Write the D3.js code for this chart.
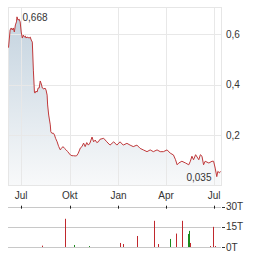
<!DOCTYPE html>
<html>
<head>
<meta charset="utf-8">
<script src="https://cdn.jsdelivr.net/npm/d3@7"></script>
<style>
  body { margin: 0; background: #fff; }
  svg text { font-family: "Liberation Sans", Arial, sans-serif; font-size: 10px; fill: #333; }
</style>
</head>
<body>
<div id="chart"></div>
<script>
// price series
const priceDates = ["2024-06-07","2024-06-10","2024-06-12","2024-06-14","2024-06-16","2024-06-18","2024-06-20","2024-06-22","2024-06-23","2024-06-25","2024-06-27","2024-06-29",
  "2024-07-01","2024-07-03","2024-07-05","2024-07-07","2024-07-09","2024-07-10","2024-07-12","2024-07-16","2024-07-18","2024-07-20","2024-07-22","2024-07-24","2024-07-26","2024-07-27","2024-07-29","2024-07-31",
  "2024-08-02","2024-08-04","2024-08-06","2024-08-08","2024-08-10","2024-08-13","2024-08-15","2024-08-17","2024-08-19","2024-08-20","2024-08-22","2024-08-25","2024-08-26","2024-08-28","2024-08-31",
  "2024-09-02","2024-09-04","2024-09-07","2024-09-09","2024-09-10","2024-09-13","2024-09-15","2024-09-18","2024-09-21","2024-09-24","2024-09-27",
  "2024-10-02","2024-10-05","2024-10-08","2024-10-11","2024-10-14","2024-10-17","2024-10-21","2024-10-24","2024-10-27","2024-10-30",
  "2024-11-02","2024-11-05","2024-11-08","2024-11-12","2024-11-15","2024-11-18","2024-11-21","2024-11-24","2024-11-27",
  "2024-12-04","2024-12-10","2024-12-16","2024-12-23","2024-12-29",
  "2025-01-04","2025-01-10","2025-01-17","2025-01-23","2025-01-29","2025-02-05","2025-02-11","2025-02-17","2025-02-24",
  "2025-03-02","2025-03-08","2025-03-15","2025-03-21","2025-03-27","2025-04-03","2025-04-09","2025-04-15","2025-04-19","2025-04-22","2025-04-25",
  "2025-05-01","2025-05-08","2025-05-14","2025-05-17","2025-05-20","2025-05-23","2025-05-27","2025-06-02","2025-06-05","2025-06-08","2025-06-11","2025-06-14","2025-06-21","2025-06-27","2025-06-30",
  "2025-07-03","2025-07-06","2025-07-08","2025-07-11","2025-07-13"];
const priceValues = [0.546,0.616,0.624,0.616,0.624,0.608,0.636,0.648,0.668,0.655,0.659,0.648,
  0.608,0.584,0.596,0.588,0.592,0.584,0.588,0.584,0.588,0.576,0.568,0.457,0.370,0.366,0.374,0.370,
  0.386,0.386,0.414,0.402,0.386,0.382,0.386,0.378,0.358,0.319,0.279,0.240,0.213,0.207,0.207,
  0.200,0.187,0.173,0.160,0.154,0.141,0.147,0.154,0.147,0.141,0.134,
  0.121,0.118,0.118,0.117,0.118,0.128,0.149,0.154,0.168,0.154,
  0.170,0.160,0.168,0.192,0.173,0.180,0.170,0.173,0.183,
  0.187,0.173,0.160,0.173,0.160,
  0.173,0.160,0.167,0.160,0.154,0.160,0.147,0.141,0.134,
  0.141,0.134,0.141,0.134,0.134,0.141,0.128,0.121,0.102,0.082,0.089,
  0.096,0.089,0.082,0.096,0.116,0.102,0.122,0.102,0.122,0.116,0.082,0.096,0.089,0.096,0.096,
  0.069,0.035,0.056,0.050,0.056];

// volume series (thousands), up = green, down = red
const volDates = ["2024-08-10","2024-09-21","2024-10-08","2024-11-07","2025-01-03","2025-01-09","2025-02-06","2025-03-10","2025-03-16",
  "2025-04-09","2025-04-19","2025-05-02","2025-05-13","2025-05-15","2025-05-17","2025-06-24","2025-06-28","2025-07-03"];
const volValues = [1, 21, 1.5, 0.7, 3, 2.2, 8.2, 19.5, 2.2, 6, 10, 19.5, 9.7, 12, 3, 0.7, 15, 0.7];
const volUp = [false, false, true, true, false, false, false, false, false, true, false, false, true, true, false, false, false, false];

const monthTicks = ["2024-07-01","2024-10-01","2025-01-01","2025-04-01","2025-07-01"];
const monthLabels = ["Jul","Okt","Jan","Apr","Jul"];
const priceTicks = [0.2, 0.4, 0.6];
const volTicks = [0, 15, 30];
const maxLabel = "0,668", minLabel = "0,035";

const parse = d3.timeParse("%Y-%m-%d");
const de = d3.formatLocale({ decimal: ",", thousands: ".", grouping: [3], currency: ["", "€"] });
const fmt = de.format(".1f");

const W = 264, H = 255;
const plotLeft = 8, plotRight = 221, plotTop = 7, plotBottom = 185.5;
const volTop = 206.7, volBottom = 247;

const svg = d3.select("#chart").append("svg")
  .attr("width", W).attr("height", H);

const x = d3.scaleTime()
  .domain([parse("2024-06-06"), parse("2025-07-14")])
  .range([plotLeft, plotRight]);

const y = d3.scaleLinear()
  .domain([0, 0.707])
  .range([plotBottom, plotTop]);

const yv = d3.scaleLinear()
  .domain([0, 30])
  .range([volBottom, volTop]);

const price = priceDates.map((d, i) => ({ date: parse(d), value: priceValues[i] }));

// gradient for the area
const grad = svg.append("defs").append("linearGradient")
  .attr("id", "areaFill")
  .attr("x1", "0%").attr("x2", "0%").attr("y1", "0%").attr("y2", "100%");
grad.append("stop").attr("offset", "0%").attr("stop-color", "#c4d3df");
grad.append("stop").attr("offset", "100%").attr("stop-color", "#f8f9fa");

// area under the line
svg.append("path")
  .datum(price)
  .attr("fill", "url(#areaFill)")
  .attr("d", d3.area().x(d => x(d.date)).y0(plotBottom).y1(d => y(d.value)));

// grid
svg.append("g").selectAll("line")
  .data(priceTicks)
  .join("line")
  .attr("x1", plotLeft).attr("x2", plotRight)
  .attr("y1", d => Math.round(y(d)) + 0.5).attr("y2", d => Math.round(y(d)) + 0.5)
  .attr("stroke", "#e8e8e8");

svg.append("g").selectAll("line")
  .data(monthTicks)
  .join("line")
  .attr("x1", d => Math.round(x(parse(d))) + 0.5).attr("x2", d => Math.round(x(parse(d))) + 0.5)
  .attr("y1", plotTop).attr("y2", plotBottom)
  .attr("stroke", "#e8e8e8");

svg.append("rect")
  .attr("x", plotLeft + 0.5).attr("y", plotTop + 0.5)
  .attr("width", plotRight - plotLeft).attr("height", plotBottom - plotTop - 0.5)
  .attr("fill", "none").attr("stroke", "#e6e6e6");

// price line
svg.append("path")
  .datum(price)
  .attr("fill", "none")
  .attr("stroke", "#c0393b")
  .attr("stroke-width", 1)
  .attr("d", d3.line().x(d => x(d.date)).y(d => y(d.value)));

// price labels on the right
svg.append("g").selectAll("text")
  .data(priceTicks)
  .join("text")
  .attr("x", 226)
  .attr("y", d => y(d) + 3.5)
  .text(d => fmt(d));

// max / min annotations
svg.append("text").attr("x", 22.5).attr("y", 20.5).text(maxLabel);
svg.append("text").attr("x", 211.5).attr("y", 180.5).attr("text-anchor", "end").text(minLabel);

// month labels
svg.append("g").selectAll("text")
  .data(monthTicks)
  .join("text")
  .attr("x", d => x(parse(d)))
  .attr("y", 198.5)
  .attr("text-anchor", "middle")
  .text((d, i) => monthLabels[i]);

// volume grid
svg.append("g").selectAll("line")
  .data(volTicks)
  .join("line")
  .attr("x1", plotLeft).attr("x2", plotRight)
  .attr("y1", d => Math.round(yv(d)) + 0.5).attr("y2", d => Math.round(yv(d)) + 0.5)
  .attr("stroke", "#c8c8c8");

svg.append("g").selectAll("line")
  .data(volTicks)
  .join("line")
  .attr("x1", plotRight + 1).attr("x2", plotRight + 4)
  .attr("y1", d => Math.round(yv(d)) + 0.5).attr("y2", d => Math.round(yv(d)) + 0.5)
  .attr("stroke", "#333");

svg.append("g").selectAll("text")
  .data(volTicks)
  .join("text")
  .attr("x", 226)
  .attr("y", d => yv(d) + 3.5)
  .text(d => d + "T");

// month ticks on the volume top line
svg.append("g").selectAll("line")
  .data(monthTicks)
  .join("line")
  .attr("x1", d => Math.round(x(parse(d))) + 0.5).attr("x2", d => Math.round(x(parse(d))) + 0.5)
  .attr("y1", volTop - 1).attr("y2", volTop + 2)
  .attr("stroke", "#222");

// volume bars
svg.append("g").selectAll("rect")
  .data(volDates)
  .join("rect")
  .attr("x", d => Math.round(x(parse(d))))
  .attr("width", 1)
  .attr("y", (d, i) => yv(volValues[i]))
  .attr("height", (d, i) => volBottom - yv(volValues[i]))
  .attr("fill", (d, i) => volUp[i] ? "#1b8a1b" : "#c0282d");
</script>
</body>
</html>
